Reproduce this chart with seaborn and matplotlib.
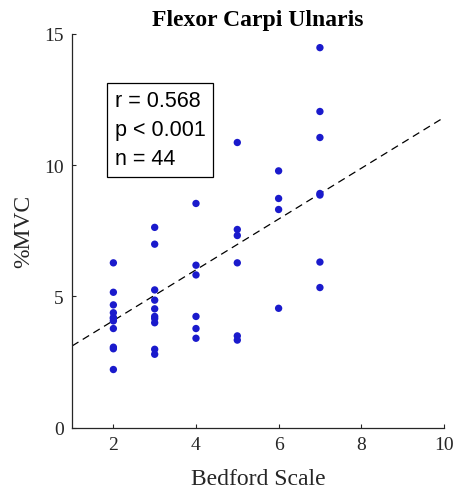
"""
Flexor Carpi Ulnaris: %MVC vs Bedford Scale with linear fit
"""
import numpy as np
import pandas as pd
import matplotlib
matplotlib.use('Agg')
import matplotlib.pyplot as plt
import seaborn as sns

# Data
bedford = [2, 2, 2, 2, 2, 2, 2, 2, 2, 2, 2,
           3, 3, 3, 3, 3, 3, 3, 3, 3, 3,
           4, 4, 4, 4, 4, 4,
           5, 5, 5, 5, 5, 5,
           6, 6, 6, 6,
           7, 7, 7, 7, 7, 7, 7]
mvc = [6.28, 5.16, 4.68, 4.38, 4.16, 4.07, 4.20, 3.78, 3.07, 3.01, 2.22,
       7.63, 6.99, 5.25, 4.86, 4.53, 4.24, 4.16, 4.00, 2.99, 2.80,
       8.54, 6.19, 5.82, 4.24, 3.78, 3.41,
       10.86, 7.55, 7.32, 6.28, 3.50, 3.34,
       9.78, 8.73, 8.31, 4.55,
       14.47, 12.04, 11.05, 8.92, 8.86, 6.31, 5.34]

# fitted line as drawn in the reference
fit_intercept = 2.15
fit_slope = 0.966

stats_lines = ['r = 0.568', 'p < 0.001', 'n = 44']
x_ticks = [2, 4, 6, 8, 10]
y_ticks = [0, 5, 10, 15]

df = pd.DataFrame({'bedford': bedford, 'mvc': mvc})

sns.set_style('ticks')
plt.rcParams['font.family'] = ['Liberation Serif', 'DejaVu Serif']
plt.rcParams['xtick.direction'] = 'in'
plt.rcParams['ytick.direction'] = 'in'

grey = '#262626'
fig = plt.figure(figsize=(4.59, 4.89), dpi=100)
ax = fig.add_axes([0.157, 0.123, 0.81, 0.806])

sns.scatterplot(data=df, x='bedford', y='mvc', color='#1a1acc', s=28,
                edgecolor='none', ax=ax, zorder=3)
ax.axline((0, fit_intercept), slope=fit_slope, color='black',
          linestyle=(0, (6, 4)), linewidth=0.9)
ax.set_xlim(1, 10)
ax.set_ylim(0, 15)

ax.set_xticks(x_ticks)
ax.set_yticks(y_ticks)
ax.tick_params(length=3, width=0.8, colors=grey, labelsize=14, pad=6)
for s in ['left', 'bottom']:
    ax.spines[s].set_color(grey)
    ax.spines[s].set_linewidth(0.9)
sns.despine(ax=ax)

ax.set_xlabel('Bedford Scale', fontsize=17, color=grey, labelpad=11)
ax.set_ylabel('%MVC', fontsize=17, color=grey, labelpad=7)
ax.set_title('Flexor Carpi Ulnaris', fontsize=17, fontweight='bold', color='black', pad=6)

ax.text(0.115, 0.857, '\n'.join(stats_lines), transform=ax.transAxes,
        family=['Liberation Sans', 'DejaVu Sans'], fontsize=15.5, va='top', ha='left',
        linespacing=1.5, color='black',
        bbox=dict(boxstyle='square,pad=0.35', facecolor='white', edgecolor='black', linewidth=0.9))

plt.savefig('out.png', dpi=100)
